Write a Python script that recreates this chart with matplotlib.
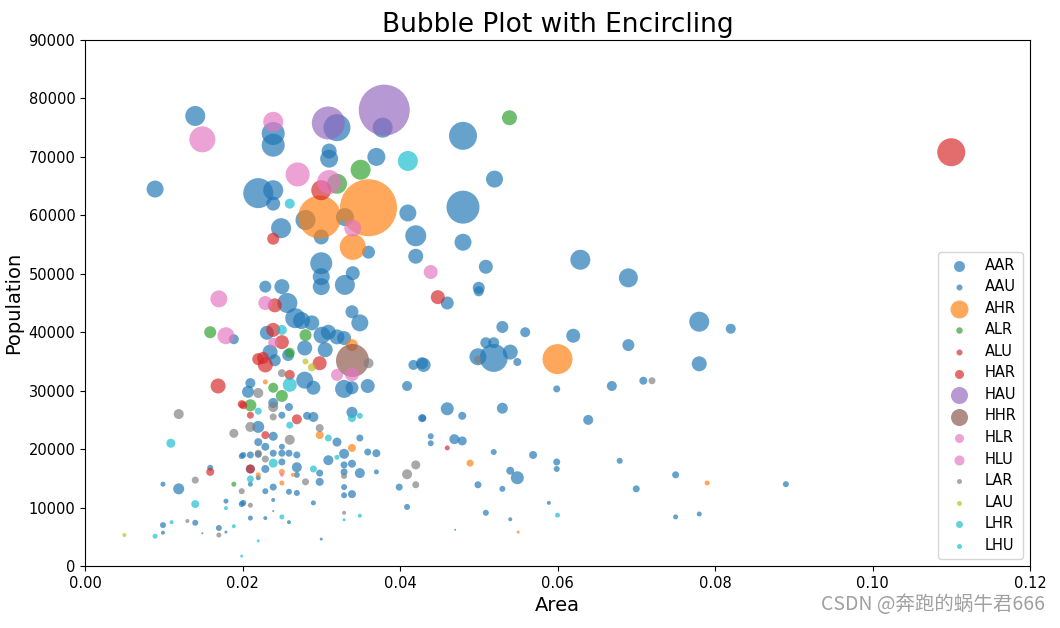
import numpy as np
import matplotlib
matplotlib.use('Agg')
import matplotlib.pyplot as plt

# category values: area, population, bubble diameter (px)
AAR_area = [0.014, 0.0089, 0.0378, 0.032, 0.0239, 0.0239, 0.031, 0.031, 0.037, 0.022, 0.0239, 0.0239,
            0.028, 0.033, 0.036, 0.0249, 0.030, 0.041, 0.042, 0.042, 0.030, 0.030, 0.030, 0.034, 0.033,
            0.0229, 0.025, 0.048, 0.052, 0.048, 0.048, 0.0629, 0.069, 0.0509, 0.050, 0.050, 0.0189,
            0.0119, 0.0257, 0.0267, 0.0275, 0.0288, 0.0231, 0.0301, 0.0279, 0.0305, 0.0235, 0.0241,
            0.0258, 0.0279, 0.0290, 0.0210, 0.0207, 0.0239, 0.0290, 0.0220, 0.0239, 0.0269, 0.0210,
            0.0339, 0.0349, 0.0309, 0.0320, 0.0329, 0.0329, 0.0339, 0.0359, 0.0417, 0.0428, 0.0409,
            0.0339, 0.0320, 0.0329, 0.0309, 0.0349, 0.0460, 0.0530, 0.0559, 0.0620, 0.0690, 0.0509,
            0.0519, 0.0499, 0.0519, 0.0540, 0.0430, 0.0669, 0.0460, 0.0530, 0.0639, 0.0469, 0.0479,
            0.0549, 0.078, 0.082, 0.078]
AAR_pop = [77000, 64500, 75000, 75000, 74000, 72000, 71000, 69700, 70000, 63800, 64300, 62000,
           59200, 59700, 53700, 57800, 56300, 60400, 56500, 53000, 51800, 49500, 47800, 50100, 48100,
           47800, 47800, 73600, 66200, 61400, 55400, 52400, 49300, 51200, 47600, 47000, 38800,
           13200, 45000, 42400, 42000, 41600, 39900, 39500, 37300, 37000, 36600, 35200,
           36100, 31800, 30500, 31300, 29800, 27900, 25500, 23800, 22200, 16900, 16600,
           43500, 41600, 40000, 39200, 39000, 30300, 30500, 30800, 34400, 34700, 30800,
           26300, 21200, 19200, 18100, 15900, 45000, 40900, 40000, 39400, 37800, 38200,
           38200, 35800, 35600, 36600, 34400, 30800, 26900, 27000, 25000, 21700, 21400,
           15100, 41800, 40600, 34600]
AAR_size = [20, 17, 20, 27, 23, 23, 15, 18, 18, 30, 20, 14,
            20, 18, 13, 20, 15, 17, 21, 15, 22, 17, 17, 14, 20,
            12, 15, 28, 17, 33, 17, 20, 19, 14, 12, 10, 10,
            11, 20, 20, 17, 15, 14, 17, 15, 15, 15, 12,
            12, 17, 14, 10, 12, 10, 10, 12, 9, 10, 9,
            13, 17, 15, 15, 14, 18, 13, 14, 10, 12, 10,
            11, 9, 10, 10, 10, 13, 12, 10, 14, 12, 11,
            11, 17, 28, 15, 14, 10, 13, 11, 10, 10, 9,
            13, 20, 10, 15]

AAU_area = [0.0199, 0.0159, 0.0099, 0.0199, 0.0179, 0.014, 0.0099, 0.0099, 0.017, 0.0149, 0.0179,
            0.0259, 0.0250, 0.0282, 0.0220, 0.0229, 0.0250, 0.0201, 0.0210, 0.0220, 0.0239, 0.0250,
            0.0259, 0.0269, 0.0250, 0.0229, 0.0269, 0.0298, 0.0220, 0.0298, 0.0210, 0.0239, 0.0229,
            0.0259, 0.0269, 0.0201, 0.0239, 0.0290, 0.0210, 0.0229, 0.0239, 0.0259, 0.0300,
            0.0349, 0.0359, 0.0370, 0.0339, 0.0329, 0.0329, 0.0370, 0.0399, 0.0329, 0.0329, 0.0339,
            0.0409, 0.0428, 0.0549, 0.0599, 0.0709, 0.0429, 0.0479, 0.0439, 0.0439, 0.0519, 0.0569,
            0.0599, 0.0599, 0.0679, 0.0540, 0.0499, 0.0530, 0.0700, 0.0589, 0.0509, 0.0540, 0.0470,
            0.075, 0.089, 0.075, 0.078]
AAU_pop = [18800, 16800, 14000, 10600, 11100, 7400, 7000, 5700, 6500, 5600, 5800,
           27200, 25800, 25700, 21200, 20400, 20400, 19000, 19000, 19100, 19300, 19300,
           19300, 19000, 17800, 16600, 15600, 15900, 15100, 14400, 14000, 13500, 12800,
           12700, 12500, 10800, 11300, 10800, 8200, 8200, 9400, 7500, 4600,
           21900, 19500, 19300, 17500, 17300, 16100, 16100, 13500, 13500, 12100, 12300,
           10100, 25300, 34900, 30300, 31700, 25300, 25700, 22200, 21000, 19500, 19000,
           17800, 16600, 18000, 16300, 13900, 13200, 13200, 10800, 9100, 8000, 6200,
           15600, 14000, 8400, 8900]
AAU_size = [6, 6, 5, 6, 5, 6, 6, 4, 6, 2, 3,
            8, 7, 8, 8, 8, 6, 6, 7, 7, 7, 7,
            7, 7, 7, 8, 6, 7, 5, 8, 5, 7, 6,
            6, 6, 6, 4, 5, 5, 4, 2, 4, 3,
            7, 7, 8, 8, 7, 7, 5, 7, 6, 6, 8,
            6, 8, 8, 7, 8, 7, 8, 6, 6, 6, 8,
            7, 6, 6, 8, 7, 6, 7, 4, 6, 4, 2,
            7, 6, 5, 5]

AHR_area = [0.036, 0.0298, 0.034, 0.060, 0.0339, 0.0229, 0.0298, 0.0339, 0.025, 0.0264, 0.0220,
            0.025, 0.0489, 0.079, 0.055]
AHR_pop = [61300, 59700, 54600, 35400, 37800, 31500, 22400, 20200, 16100, 15600, 15600,
           14200, 17600, 14200, 5800]
AHR_size = [57, 43, 26, 30, 12, 5, 8, 8, 6, 4, 5, 5, 7, 5, 3]

ALR_area = [0.0539, 0.035, 0.032, 0.0159, 0.028, 0.026, 0.0239, 0.025, 0.021, 0.0189]
ALR_pop = [76700, 67800, 65400, 40000, 39500, 36500, 30500, 29100, 27500, 14000]
ALR_size = [15, 20, 20, 12, 12, 10, 10, 12, 12, 5]

ALU_area = [0.0199, 0.0159, 0.0201, 0.021, 0.0269, 0.0229, 0.021, 0.046, 0.026]
ALU_pop = [27700, 16100, 27500, 25800, 25100, 22400, 16600, 20200, 32700]
ALU_size = [8, 8, 8, 7, 10, 8, 9, 5, 10]

HAR_area = [0.110, 0.030, 0.0239, 0.0169, 0.0448, 0.0241, 0.0239, 0.025, 0.022, 0.0229, 0.0226, 0.0298]
HAR_pop = [70800, 64300, 56000, 30800, 46000, 44600, 40400, 38300, 35400, 34400, 35600, 34700]
HAR_size = [28, 20, 12, 15, 14, 14, 14, 14, 12, 15, 12, 14]

HAU_area = [0.038, 0.0309]
HAU_pop = [78000, 75800]
HAU_size = [51, 33]

HHR_area = [0.0339]
HHR_pop = [35200]
HHR_size = [33]

HLR_area = [0.0239, 0.027, 0.031, 0.034, 0.0179, 0.0439, 0.0229, 0.0239, 0.032, 0.0339, 0.025]
HLR_pop = [76000, 67000, 65700, 57800, 39400, 50300, 45000, 38200, 32700, 32800, 15600]
HLR_size = [20, 24, 24, 17, 17, 14, 14, 10, 12, 14, 4]

HLU_area = [0.0149, 0.017]
HLU_pop = [73000, 45700]
HLU_size = [26, 17]

LAR_area = [0.0119, 0.0189, 0.014, 0.0199, 0.013, 0.017, 0.025, 0.022, 0.0239, 0.0239, 0.021,
            0.0298, 0.026, 0.022, 0.0229, 0.028, 0.021, 0.036, 0.0329, 0.042, 0.0409, 0.042,
            0.0329, 0.0499, 0.072]
LAR_pop = [26000, 22700, 14700, 12800, 7700, 5300, 33000, 29600, 27200, 25500, 23800,
           23600, 21600, 19300, 18300, 14400, 10400, 34700, 15400, 17300, 15700, 13900,
           9100, 35300, 31700]
LAR_size = [10, 9, 7, 6, 4, 5, 8, 10, 10, 7, 10, 8, 10, 7, 7, 7, 5, 10, 6, 9, 10, 7, 4, 8, 7]

LAU_area = [0.005, 0.028, 0.0288]
LAU_pop = [5300, 35000, 34000]
LAU_size = [4, 6, 8]

LHR_area = [0.041, 0.026, 0.025, 0.026, 0.0109, 0.014, 0.0239, 0.0339]
LHR_pop = [69300, 62000, 40400, 31000, 21000, 10600, 17600, 25300]
LHR_size = [20, 10, 10, 14, 9, 8, 9, 8]

LHU_area = [0.0179, 0.011, 0.0189, 0.0089, 0.0199, 0.022, 0.026, 0.0290, 0.021, 0.025, 0.022,
            0.0349, 0.0309, 0.032, 0.0329, 0.0349, 0.060]
LHU_pop = [9900, 7500, 6800, 5100, 1700, 26500, 24100, 16600, 14900, 8400, 4300,
           25700, 21900, 18600, 7900, 8600, 8700]
LHU_size = [4, 4, 4, 5, 3, 7, 7, 7, 7, 5, 3, 6, 7, 5, 3, 4, 5]

categories = ['AAR', 'AAU', 'AHR', 'ALR', 'ALU', 'HAR', 'HAU', 'HHR', 'HLR', 'HLU', 'LAR', 'LAU', 'LHR', 'LHU']
data = {
    'AAR': (AAR_area, AAR_pop, AAR_size), 'AAU': (AAU_area, AAU_pop, AAU_size),
    'AHR': (AHR_area, AHR_pop, AHR_size), 'ALR': (ALR_area, ALR_pop, ALR_size),
    'ALU': (ALU_area, ALU_pop, ALU_size), 'HAR': (HAR_area, HAR_pop, HAR_size),
    'HAU': (HAU_area, HAU_pop, HAU_size), 'HHR': (HHR_area, HHR_pop, HHR_size),
    'HLR': (HLR_area, HLR_pop, HLR_size), 'HLU': (HLU_area, HLU_pop, HLU_size),
    'LAR': (LAR_area, LAR_pop, LAR_size), 'LAU': (LAU_area, LAU_pop, LAU_size),
    'LHR': (LHR_area, LHR_pop, LHR_size), 'LHU': (LHU_area, LHU_pop, LHU_size),
}
# legend marker diameters (px)
legend_size = [11, 6, 18, 6.5, 6, 9, 17, 17, 9, 10, 5, 5, 7, 5]

colors = [plt.cm.tab10(i / float(len(categories) - 1)) for i in range(len(categories))]


def main():
    fig = plt.figure(figsize=(10.6, 6.28), dpi=100, facecolor='w')
    ax = fig.add_axes([85 / 1060, 1 - 566 / 628, 945 / 1060, 526 / 628])
    for i, cat in enumerate(categories):
        area, pop, size = data[cat]
        s = (np.array(size) * 0.72) ** 2
        ax.scatter(area, pop, s=s, color=colors[i], alpha=0.68, linewidths=0, label=cat)

    ax.set_xlim(0, 0.12)
    ax.set_ylim(0, 90000)
    ax.set_xticks(np.arange(0, 0.121, 0.02))
    ax.set_xticklabels(['%.2f' % t for t in np.arange(0, 0.121, 0.02)])
    ax.tick_params(labelsize=10.5)
    ax.set_xlabel('Area', fontsize=14)
    ax.set_ylabel('Population', fontsize=14)
    ax.set_title('Bubble Plot with Encircling', fontsize=19)

    leg = ax.legend(loc='lower right', fontsize=10.5, labelspacing=0.45)
    for h, d in zip(leg.legend_handles, legend_size):
        h.set_sizes([(d * 0.72) ** 2])
        h.set_alpha(0.68)

    fig.text(0.986, 0.02, 'CSDN @奔跑的蜗牛君666', ha='right', va='bottom', fontsize=14,
             color='#a0a0a0', family=['Noto Sans CJK SC', 'DejaVu Sans'])
    fig.savefig('out.png', dpi=100)


if __name__ == "__main__":
    main()
